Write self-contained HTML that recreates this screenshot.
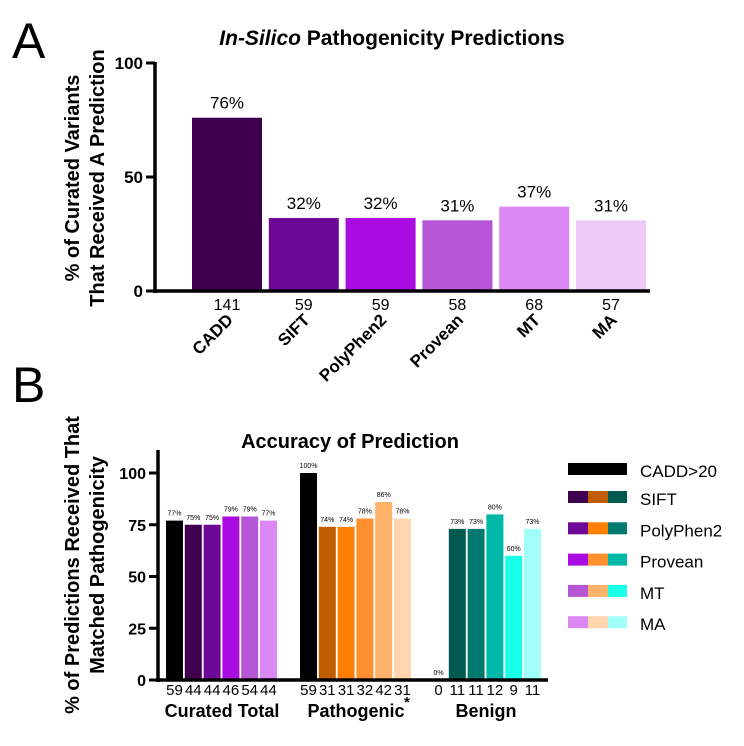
<!DOCTYPE html>
<html><head><meta charset="utf-8"><style>
body{margin:0;background:#fff;}
svg text{font-family:"Liberation Sans",Arial,sans-serif;}
</style></head><body>
<svg id="fig" width="744" height="741" viewBox="0 0 744 741" xmlns="http://www.w3.org/2000/svg">
<text x="12" y="58" font-size="50">A</text>
<text x="12" y="402" font-size="50">B</text>
<text x="392" y="45" font-size="21" font-weight="bold" text-anchor="middle"><tspan font-style="italic">In-Silico</tspan> Pathogenicity Predictions</text>
<g transform="translate(85,178) rotate(-90)">
<text x="0" y="-6" font-size="20" font-weight="bold" text-anchor="middle">% of Curated Variants</text>
<text x="0" y="19" font-size="20" font-weight="bold" text-anchor="middle">That Received A Prediction</text>
</g>
<g id="chartA"></g>
<text x="350" y="448" font-size="20" font-weight="bold" text-anchor="middle">Accuracy of Prediction</text>
<g transform="translate(85,565) rotate(-90)">
<text x="0" y="-6" font-size="20" font-weight="bold" text-anchor="middle">% of Predictions Received That</text>
<text x="0" y="19" font-size="20" font-weight="bold" text-anchor="middle">Matched Pathogenicity</text>
</g>
<g id="chartB"></g>
<g id="legend"></g>
</svg>
<script>
const aCategories=["CADD","SIFT","PolyPhen2","Provean","MT","MA"];
const aValues=[76,32,32,31,37,31];
const aCounts=[141,59,59,58,68,57];
const aTicks=[0,50,100];
const bGroups=["Curated Total","Pathogenic","Benign"];
const bCurated=[77,75,75,79,79,77];
const bPathogenic=[100,74,74,78,86,78];
const bBenign=[0,73,73,80,60,73];
const bCuratedN=[59,44,44,46,54,44];
const bPathogenicN=[59,31,31,32,42,31];
const bBenignN=[0,11,11,12,9,11];
const bTicks=[0,25,50,75,100];
const legendNames=["CADD>20","SIFT","PolyPhen2","Provean","MT","MA"];

const NS="http://www.w3.org/2000/svg";
function mk(tag,attrs,parent,txt){const e=document.createElementNS(NS,tag);for(const k in attrs)e.setAttribute(k,attrs[k]);if(txt!==undefined)e.textContent=txt;parent.appendChild(e);return e;}
const purples=["#3f0050","#6e0896","#aa0be0","#b655d5","#dc88f4","#eccaf5"];
// Chart A
const A=document.getElementById('chartA');
const ay=v=>291-v*(291-63)/100;
const ax=i=>192+i*76.8;
aCategories.forEach((c,i)=>{
 const r=mk('rect',{x:ax(i),y:ay(aValues[i]),width:70,height:ay(0)-ay(aValues[i]),fill:purples[i]},A);
 
 
 const t=mk('text',{x:ax(i)+35,y:ay(aValues[i])-9,'font-size':17,'text-anchor':'middle'},A,aValues[i]+'%');
 
 
 const n=mk('text',{x:ax(i)+35,y:310,'font-size':16,'text-anchor':'middle'},A,aCounts[i]);
 
 
 const lx=ax(i)+42, ly=321;
 const l=mk('text',{x:lx,y:ly,'font-size':17,'font-weight':'bold','text-anchor':'end',transform:`rotate(-45 ${lx} ${ly})`},A,c);
 
 
});
mk('line',{x1:155,y1:62,x2:155,y2:293,stroke:'#000','stroke-width':3.5},A);
mk('line',{x1:153,y1:291,x2:650,y2:291,stroke:'#000','stroke-width':3.5},A);
aTicks.forEach(v=>{
 mk('line',{x1:146,y1:ay(v),x2:155,y2:ay(v),stroke:'#000','stroke-width':3},A);
 const t=mk('text',{x:143,y:ay(v)+6,'font-size':17,'font-weight':'bold','text-anchor':'end'},A,v);
 
 
});
// Chart B
const B=document.getElementById('chartB');
const by=v=>680-v*(680-473)/100;
const groupStart=[166,300,430];
const bx=(g,i)=>groupStart[g]+i*18.8;
const bData=[bCurated,bPathogenic,bBenign];
const bN=[bCuratedN,bPathogenicN,bBenignN];
const bColors=[["#000","#3f0050","#6e0896","#aa0be0","#b655d5","#dc88f4"],["#000","#bf5d00","#ff8000","#ff9030","#ffb36a","#ffd6b0"],["#000","#005a52","#007a70","#00b8a8","#1affe8","#a0fff8"]];
bGroups.forEach((g,gi)=>{
 bData[gi].forEach((v,i)=>{
  const r=mk('rect',{x:bx(gi,i),y:by(v),width:17,height:by(0)-by(v),fill:bColors[gi][i]},B);
  
  
  const t=mk('text',{x:bx(gi,i)+8.5,y:by(v)-5,'font-size':7,'text-anchor':'middle'},B,v+'%');
  
  
  const n=mk('text',{x:bx(gi,i)+8.5,y:695,'font-size':15,'text-anchor':'middle'},B,bN[gi][i]);
  
  
 });
 const gl=mk('text',{x:groupStart[gi]+56,y:717,'font-size':18,'font-weight':'bold','text-anchor':'middle'},B,g);
 
 
});
mk('text',{x:404,y:707,'font-size':15,'font-weight':'bold'},B,'*');
mk('line',{x1:158,y1:450,x2:158,y2:682,stroke:'#000','stroke-width':3.5},B);
mk('line',{x1:156,y1:680,x2:548,y2:680,stroke:'#000','stroke-width':3.5},B);
bTicks.forEach(v=>{
 mk('line',{x1:149,y1:by(v),x2:158,y2:by(v),stroke:'#000','stroke-width':3},B);
 const t=mk('text',{x:146,y:by(v)+6,'font-size':16,'font-weight':'bold','text-anchor':'end'},B,v);
 
 
});
// Legend
const L=document.getElementById('legend');
legendNames.forEach((nm,i)=>{
 const y=i===0?470:498+(i-1)*31.3;
 if(i===0){mk('rect',{x:568,y:y-7,width:59,height:12,fill:'#000'},L);}
 else{for(let g=0;g<3;g++)mk('rect',{x:568+g*20,y:y-7,width:g===2?19:20,height:12,fill:bColors[g][i]},L);}
 const t=mk('text',{x:640,y:y+7,'font-size':17},L,nm);
 
 
});
</script>
</body></html>
